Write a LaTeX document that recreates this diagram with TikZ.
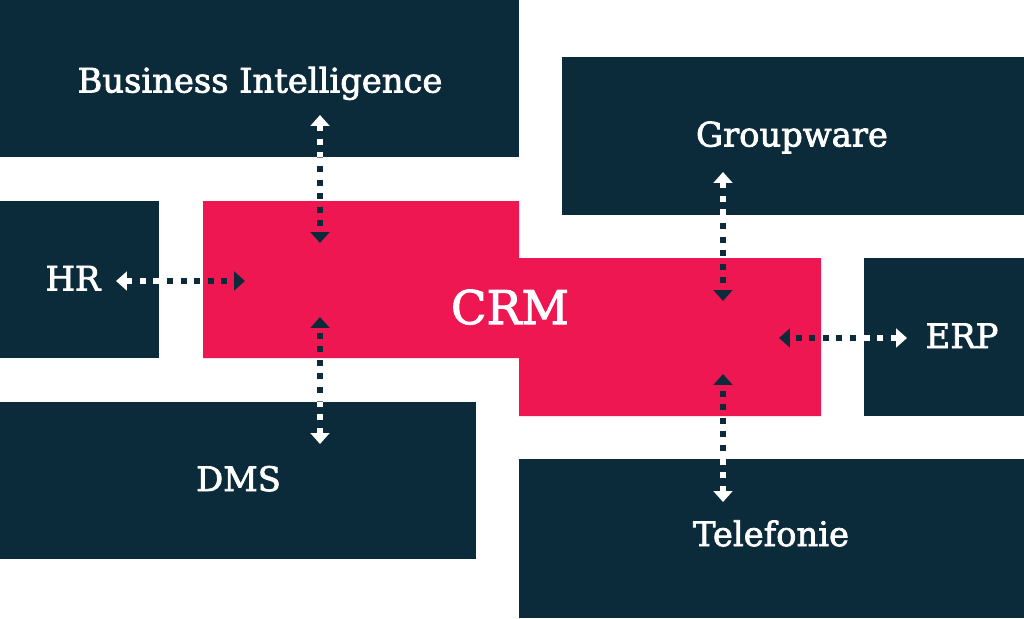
\documentclass[tikz,border=0pt]{standalone}
\usepackage{fontspec}
\setmainfont{DejaVu Serif}
\newfontfamily\slabfont{DejaVu Serif}[FakeBold=2.2]
\usetikzlibrary{arrows.meta}
\definecolor{navy}{RGB}{12,43,58}
\definecolor{crmred}{RGB}{238,23,82}

\begin{document}
\begin{tikzpicture}[x=0.025cm,y=-0.025cm,
  box/.style={fill=navy,inner sep=0pt},
  title/.style={text=white,inner sep=0pt,anchor=base,font=\slabfont\fontsize{24}{28}\selectfont},
  link/.style={line width=0.15cm,dash pattern=on 0.15cm off 0.19cm,
    {Triangle[length=0.27cm,width=0.46cm]}-{Triangle[length=0.27cm,width=0.46cm]}}]
\useasboundingbox (0,0) rectangle (1024,618);
% outer systems
\node[box,minimum width=12.975cm,minimum height=3.925cm] (bi) at (259.5,78.5) {};
\node[box,minimum width=11.55cm,minimum height=3.95cm] (gw) at (793,136) {};
\node[box,minimum width=3.975cm,minimum height=3.925cm] (hr) at (79.5,279.5) {};
\node[box,minimum width=4cm,minimum height=3.95cm] (erp) at (944,337) {};
\node[box,minimum width=11.9cm,minimum height=3.925cm] (dms) at (238,480.5) {};
\node[box,minimum width=12.625cm,minimum height=3.975cm] (tel) at (771.5,538.5) {};
% CRM block
\fill[crmred] (203,201) -- (519,201) -- (519,258) -- (821,258) -- (821,416)
  -- (519,416) -- (519,358) -- (203,358) -- cycle;
% titles
\node[title] (bi-title) at (260,92.5) {Business Intelligence};
\node[title] (gw-title) at (792,146.5) {Groupware};
\node[title] (hr-title) at (73,290.5) {HR};
\node[title] (erp-title) at (962,348) {ERP};
\node[title] (dms-title) at (238.5,491) {DMS};
\node[title] (tel-title) at (771,546) {Telefonie};
\node[title,font=\slabfont\fontsize{33}{38}\selectfont] (crm) at (510,324) {CRM};
% link ends
\coordinate (bi-t) at (320,115);   \coordinate (crm-bi) at (320,243);
\coordinate (hr-t) at (116,281);   \coordinate (crm-hr) at (245,281);
\coordinate (dms-t) at (320,444);  \coordinate (crm-dms) at (320,317);
\coordinate (gw-t) at (723,172);   \coordinate (crm-gw) at (723,301);
\coordinate (erp-t) at (907,338);  \coordinate (crm-erp) at (779,338);
\coordinate (tel-t) at (723,502);  \coordinate (crm-tel) at (723,374);
\foreach \a/\b in {bi-t/crm-bi,hr-t/crm-hr,dms-t/crm-dms,gw-t/crm-gw,erp-t/crm-erp,tel-t/crm-tel}
  \draw[link,navy] (\a) -- (\b);
% white where the links cross the dark boxes
\begin{scope}
\clip (bi.south west) rectangle (bi.north east) (gw.south west) rectangle (gw.north east)
  (hr.south west) rectangle (hr.north east) (erp.south west) rectangle (erp.north east)
  (dms.south west) rectangle (dms.north east) (tel.south west) rectangle (tel.north east);
\foreach \a/\b in {bi-t/crm-bi,hr-t/crm-hr,dms-t/crm-dms,gw-t/crm-gw,erp-t/crm-erp,tel-t/crm-tel}
  \draw[link,white] (\a) -- (\b);
\end{scope}
\end{tikzpicture}
\end{document}
